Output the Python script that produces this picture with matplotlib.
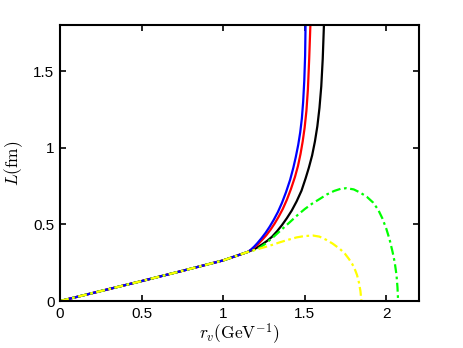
import matplotlib.pyplot as plt

# shared linear part (all curves overlap here)
r_lin = [0.0, 0.25, 0.5, 0.75, 1.0, 1.15]
L_lin = [0.0, 0.065, 0.13, 0.197, 0.265, 0.32]

# branches after r ~ 1.15
r_blue = [1.17, 1.19, 1.21, 1.235, 1.26, 1.285, 1.31, 1.335, 1.36, 1.385, 1.41, 1.43, 1.445, 1.46, 1.472, 1.482, 1.49, 1.497, 1.502, 1.505]
L_blue = [0.335, 0.355, 0.378, 0.41, 0.445, 0.485, 0.53, 0.58, 0.64, 0.71, 0.79, 0.87, 0.94, 1.02, 1.10, 1.19, 1.30, 1.44, 1.60, 1.82]

r_red = [1.17, 1.19, 1.215, 1.24, 1.265, 1.29, 1.315, 1.34, 1.365, 1.39, 1.415, 1.44, 1.458, 1.474, 1.487, 1.499, 1.51, 1.519, 1.527, 1.535]
L_red = [0.333, 0.35, 0.372, 0.40, 0.43, 0.465, 0.505, 0.55, 0.60, 0.66, 0.73, 0.81, 0.88, 0.96, 1.04, 1.13, 1.24, 1.38, 1.58, 1.82]

r_black = [1.18, 1.21, 1.24, 1.27, 1.30, 1.33, 1.36, 1.39, 1.42, 1.45, 1.48, 1.505, 1.525, 1.545, 1.562, 1.577, 1.59, 1.601, 1.61, 1.618]
L_black = [0.333, 0.35, 0.37, 0.393, 0.42, 0.455, 0.495, 0.54, 0.59, 0.65, 0.72, 0.80, 0.87, 0.95, 1.04, 1.14, 1.26, 1.40, 1.58, 1.82]

r_green = [1.15, 1.214, 1.26, 1.31, 1.36, 1.408, 1.455, 1.50, 1.545, 1.592, 1.635, 1.68, 1.72, 1.755, 1.80, 1.84, 1.88, 1.919, 1.95, 1.975, 2.0, 2.02, 2.038, 2.051, 2.062, 2.068, 2.072]
L_green = [0.32, 0.34, 0.375, 0.42, 0.468, 0.514, 0.56, 0.60, 0.635, 0.666, 0.695, 0.718, 0.732, 0.736, 0.728, 0.707, 0.68, 0.642, 0.595, 0.54, 0.47, 0.40, 0.32, 0.253, 0.17, 0.09, 0.0]

r_yellow = [1.15, 1.25, 1.30, 1.347, 1.40, 1.45, 1.50, 1.551, 1.59, 1.63, 1.67, 1.715, 1.745, 1.77, 1.79, 1.806, 1.82, 1.832, 1.841, 1.847]
L_yellow = [0.32, 0.35, 0.366, 0.383, 0.40, 0.415, 0.424, 0.427, 0.42, 0.40, 0.375, 0.34, 0.31, 0.275, 0.243, 0.209, 0.17, 0.12, 0.065, 0.0]

plt.rcParams['font.family'] = ['Liberation Sans', 'DejaVu Sans']
plt.rcParams['mathtext.fontset'] = 'cm'

fig = plt.figure(figsize=(4.63, 3.48), dpi=100)
ax = fig.add_axes([0.1296, 0.135, 0.7754, 0.793])

lw = 1.6
dashdot = (0, (4, 1.6, 1.2, 1.6))
ax.plot(r_lin + r_black, L_lin + L_black, color='black', lw=lw)
ax.plot(r_lin + r_red, L_lin + L_red, color='red', lw=lw)
ax.plot(r_lin + r_blue, L_lin + L_blue, color='blue', lw=lw)
ax.plot(r_lin + r_green[1:], L_lin + L_green[1:], color='#00ff00', lw=lw, ls=dashdot)
ax.plot(r_lin + r_yellow[1:], L_lin + L_yellow[1:], color='#ffff00', lw=lw, ls=dashdot)

ax.set_xlim(0, 2.2)
ax.set_ylim(0, 1.8)
ax.set_xticks([0, 0.5, 1, 1.5, 2], labels=['0', '0.5', '1', '1.5', '2'])
ax.set_yticks([0, 0.5, 1, 1.5], labels=['0', '0.5', '1', '1.5'])
ax.tick_params(direction='in', top=True, right=True, length=4, width=1.2,
               labelsize=11, pad=4)
for s in ax.spines.values():
    s.set_linewidth(1.5)

ax.set_xlabel(r'$r_v(\mathrm{GeV}^{-1})$', fontsize=12.5, labelpad=0)
ax.set_ylabel(r'$L(\mathrm{fm})$', fontsize=12.5, labelpad=6)

fig.savefig('out.png', dpi=100)
